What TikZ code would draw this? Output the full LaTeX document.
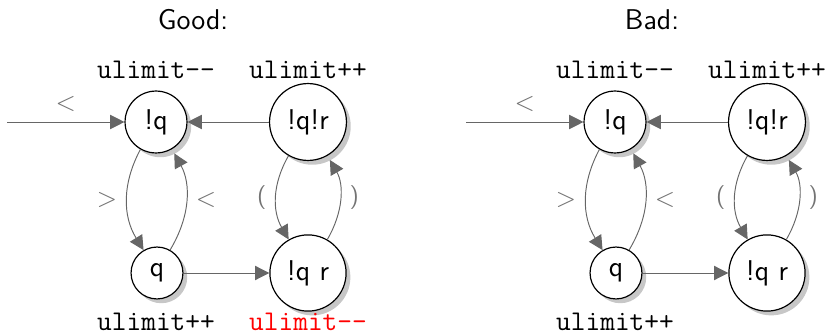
\documentclass[tikz,border=0pt,12pt]{standalone}
\usetikzlibrary{arrows.meta,shadows}
\renewcommand{\familydefault}{\sfdefault}
\newcommand{\minusminus}{-\kern0pt-}
\begin{document}
\begin{tikzpicture}[x=0.42pt,y=-0.42pt,
    state/.style={circle,draw,fill=white,line width=0.5pt,inner sep=0pt,
      drop shadow={shadow xshift=1.8pt,shadow yshift=-1.8pt,fill=black!22,opacity=1}},
    edge/.style={draw=black!60,line width=0.4pt,-{Triangle[length=6pt,width=6pt,fill=black!60]}},
    elabel/.style={text=black!55,font=\small},
    plabel/.style={text=black!55,font=\footnotesize},
    tlabel/.style={font=\ttfamily}]
    \useasboundingbox (0,0) rectangle (829,336);
    \foreach \p/\dx/\ttl in {good/0/Good:, bad/459/Bad:} {
        \begin{scope}[shift={(\dx,0)}]
            \node (\p-title) at (193,20) {\ttl};
            \coordinate (\p-start) at (7,122);
            \node[state,minimum size=26pt] (\p-nq) at (156,122) {!q};
            \node[state,minimum size=32.3pt] (\p-nqnr) at (308,122) {!q!r};
            \node[state,minimum size=21.8pt] (\p-q) at (157,273) {q};
            \node[state,minimum size=32pt] (\p-nqr) at (308,273) {!q r};
            \node[tlabel] (\p-lnq) at (156,70) {ulimit\minusminus};
            \node[tlabel] (\p-lnqnr) at (308,70) {ulimit++};
            \node[tlabel] (\p-lq) at (156,322) {ulimit++};
            \draw[edge] (\p-start) -- (\p-nq) node[midway,above,elabel] {$<$};
            \draw[edge] (\p-nqnr) -- (\p-nq);
            \draw[edge] (\p-q) -- (\p-nqr);
            \draw[edge] (\p-nq) to[bend right=30] node[left,elabel] {$>$} (\p-q);
            \draw[edge,shorten >=2pt] (\p-q) to[bend right=30] node[right,elabel] {$<$} (\p-nq);
            \draw[edge] (\p-nqnr) to[bend right=30] node[left,plabel] {(} (\p-nqr);
            \draw[edge,shorten >=2pt] (\p-nqr) to[bend right=30] node[right,plabel] {)} (\p-nqnr);
        \end{scope}
    }
    \node[tlabel,text=red] (good-lnqr) at (308,322) {ulimit\minusminus};
\end{tikzpicture}
\end{document}
